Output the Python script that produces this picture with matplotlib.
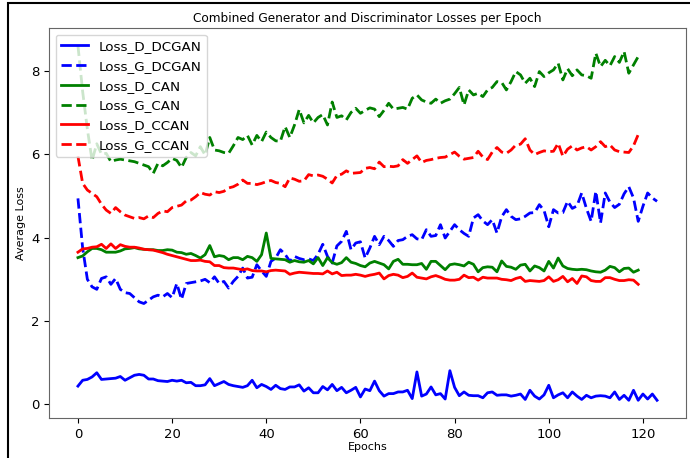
import matplotlib.pyplot as plt
from matplotlib.patches import Rectangle

# per-epoch losses
loss_d_dcgan = [
    0.44, 0.58, 0.60, 0.66, 0.76, 0.60, 0.61, 0.62, 0.63, 0.67,
    0.58, 0.64, 0.70, 0.72, 0.70, 0.61, 0.61, 0.57, 0.56, 0.55,
    0.58, 0.56, 0.58, 0.52, 0.53, 0.45, 0.45, 0.47, 0.62, 0.45,
    0.50, 0.55, 0.48, 0.45, 0.43, 0.41, 0.45, 0.58, 0.40, 0.48,
    0.43, 0.36, 0.46, 0.38, 0.36, 0.42, 0.42, 0.47, 0.32, 0.40,
    0.28, 0.28, 0.43, 0.35, 0.48, 0.33, 0.41, 0.28, 0.34, 0.41,
    0.18, 0.37, 0.33, 0.56, 0.33, 0.20, 0.26, 0.26, 0.30, 0.30,
    0.34, 0.14, 0.78, 0.20, 0.25, 0.42, 0.23, 0.26, 0.13, 0.81,
    0.41, 0.21, 0.30, 0.22, 0.21, 0.21, 0.16, 0.28, 0.30, 0.22,
    0.23, 0.23, 0.20, 0.22, 0.25, 0.12, 0.34, 0.20, 0.13, 0.23,
    0.46, 0.16, 0.23, 0.28, 0.16, 0.30, 0.20, 0.12, 0.22, 0.16,
    0.20, 0.21, 0.20, 0.16, 0.30, 0.12, 0.22, 0.10, 0.34, 0.10,
    0.25, 0.13, 0.25, 0.10,
]
loss_g_dcgan = [
    4.94, 3.75, 3.00, 2.82, 2.76, 3.02, 3.06, 2.88, 3.02, 2.76,
    2.68, 2.66, 2.56, 2.46, 2.42, 2.50, 2.58, 2.62, 2.58, 2.66,
    2.56, 2.90, 2.52, 2.90, 2.92, 2.94, 2.96, 3.00, 2.92, 3.06,
    2.90, 2.95, 2.79, 2.95, 3.07, 3.27, 3.03, 3.05, 3.35, 3.20,
    3.07, 3.43, 3.51, 3.71, 3.60, 3.43, 3.55, 3.50, 3.47, 3.49,
    3.45, 3.60, 3.84, 3.55, 3.39, 3.80, 3.91, 4.15, 3.71, 3.87,
    3.90, 3.51, 3.75, 4.03, 3.83, 4.03, 3.93, 3.79, 3.93, 3.95,
    4.03, 4.07, 3.97, 3.95, 4.19, 4.03, 4.05, 4.31, 3.99, 4.15,
    4.31, 4.19, 4.10, 4.03, 4.47, 4.55, 4.40, 4.31, 4.43, 4.11,
    4.50, 4.67, 4.51, 4.43, 4.45, 4.51, 4.59, 4.60, 4.79, 4.65,
    4.26, 4.67, 4.59, 4.60, 4.87, 4.70, 4.76, 5.07, 4.70, 4.39,
    5.11, 4.35, 5.07, 4.85, 4.72, 4.80, 5.05, 5.22, 4.95, 4.39,
    4.75, 5.07, 4.95, 4.87,
]
loss_d_can = [
    3.52, 3.56, 3.66, 3.74, 3.74, 3.71, 3.65, 3.65, 3.65, 3.68,
    3.73, 3.74, 3.76, 3.73, 3.72, 3.71, 3.71, 3.69, 3.69, 3.71,
    3.70, 3.65, 3.64, 3.60, 3.62, 3.57, 3.51, 3.59, 3.81, 3.54,
    3.57, 3.55, 3.47, 3.52, 3.52, 3.47, 3.55, 3.52, 3.43, 3.59,
    4.11, 3.50, 3.49, 3.48, 3.47, 3.41, 3.45, 3.42, 3.41, 3.45,
    3.37, 3.52, 3.33, 3.52, 3.40, 3.36, 3.40, 3.52, 3.41, 3.38,
    3.33, 3.30, 3.39, 3.43, 3.39, 3.35, 3.25, 3.43, 3.48, 3.36,
    3.36, 3.35, 3.35, 3.38, 3.24, 3.43, 3.43, 3.33, 3.23, 3.35,
    3.37, 3.35, 3.32, 3.41, 3.36, 3.18, 3.28, 3.30, 3.29, 3.18,
    3.44, 3.31, 3.29, 3.24, 3.34, 3.36, 3.20, 3.32, 3.28, 3.20,
    3.43, 3.27, 3.51, 3.32, 3.26, 3.24, 3.23, 3.24, 3.23, 3.20,
    3.18, 3.17, 3.22, 3.31, 3.28, 3.18, 3.26, 3.27, 3.17, 3.22,
]
loss_g_can = [
    8.60, 7.50, 6.60, 5.85, 6.25, 6.00, 6.02, 5.82, 5.86, 5.88,
    5.86, 5.84, 5.82, 5.78, 5.74, 5.70, 5.54, 5.78, 5.72, 5.80,
    5.90, 5.85, 5.68, 5.92, 6.04, 5.96, 6.18, 5.98, 6.40, 6.10,
    6.08, 6.04, 6.02, 6.20, 6.40, 6.35, 6.45, 6.22, 6.45, 6.30,
    6.53, 6.40, 6.32, 6.31, 6.66, 6.40, 6.70, 7.07, 6.75, 6.93,
    6.75, 6.88, 6.95, 6.70, 7.25, 6.88, 6.92, 6.82, 7.00, 7.10,
    6.98, 7.05, 7.11, 7.08, 6.90, 7.05, 7.22, 7.08, 7.10, 7.12,
    7.08, 7.34, 7.42, 7.30, 7.25, 7.22, 7.32, 7.22, 7.28, 7.32,
    7.45, 7.60, 7.18, 7.54, 7.42, 7.46, 7.38, 7.54, 7.60, 7.74,
    7.72, 7.54, 7.74, 7.98, 7.90, 7.70, 7.82, 7.62, 7.98, 7.86,
    7.95, 8.02, 8.18, 7.78, 8.05, 7.88, 8.02, 7.90, 7.88, 7.82,
    8.42, 8.10, 8.25, 8.12, 8.34, 8.20, 8.46, 7.94, 8.14, 8.34,
]
loss_d_ccan = [
    3.65, 3.73, 3.74, 3.77, 3.78, 3.84, 3.74, 3.85, 3.74, 3.83,
    3.79, 3.77, 3.77, 3.75, 3.72, 3.71, 3.70, 3.67, 3.64, 3.60,
    3.57, 3.54, 3.51, 3.48, 3.45, 3.45, 3.46, 3.43, 3.42, 3.33,
    3.33, 3.28, 3.27, 3.27, 3.25, 3.23, 3.25, 3.21, 3.20, 3.20,
    3.18, 3.21, 3.22, 3.21, 3.20, 3.12, 3.15, 3.17, 3.16, 3.15,
    3.14, 3.14, 3.13, 3.20, 3.13, 3.17, 3.09, 3.10, 3.10, 3.12,
    3.10, 3.07, 3.10, 3.12, 3.15, 3.01, 3.09, 3.12, 3.10, 3.04,
    3.07, 3.15, 3.05, 3.03, 3.01, 3.06, 3.09, 3.05, 3.00, 2.98,
    2.98, 3.00, 3.10, 3.04, 3.05, 2.98, 3.05, 3.03, 3.03, 3.03,
    3.00, 2.99, 2.97, 3.02, 3.05, 2.95, 2.97, 2.96, 2.95, 2.97,
    3.06, 2.95, 2.99, 3.07, 2.94, 3.02, 2.90, 3.08, 3.06, 2.97,
    2.95, 2.95, 3.04, 3.04, 3.00, 2.97, 2.97, 2.99, 2.98, 2.88,
]
loss_g_ccan = [
    5.95, 5.30, 5.14, 5.06, 4.98, 4.80, 4.66, 4.58, 4.72, 4.62,
    4.54, 4.50, 4.46, 4.48, 4.45, 4.52, 4.48, 4.58, 4.64, 4.62,
    4.72, 4.75, 4.78, 4.88, 4.90, 4.98, 5.08, 5.04, 5.02, 5.10,
    5.08, 5.11, 5.19, 5.22, 5.28, 5.38, 5.30, 5.30, 5.27, 5.30,
    5.34, 5.37, 5.32, 5.30, 5.22, 5.43, 5.40, 5.35, 5.36, 5.51,
    5.48, 5.50, 5.47, 5.40, 5.31, 5.49, 5.52, 5.60, 5.54, 5.55,
    5.56, 5.66, 5.68, 5.65, 5.81, 5.70, 5.71, 5.70, 5.72, 5.87,
    5.78, 5.87, 5.96, 5.80, 5.85, 5.87, 5.90, 5.92, 5.93, 5.99,
    6.05, 5.95, 5.88, 5.90, 5.92, 6.07, 5.93, 5.87, 6.05, 6.16,
    6.05, 6.02, 6.10, 6.22, 6.24, 6.37, 6.10, 5.99, 6.04, 6.08,
    6.06, 6.07, 6.26, 5.95, 6.12, 6.20, 6.10, 6.15, 6.18, 6.10,
    6.18, 6.30, 6.18, 6.22, 6.10, 6.06, 6.05, 6.04, 6.20, 6.47,
]

series = [
    ('Loss_D_DCGAN', loss_d_dcgan, 'blue', '-'),
    ('Loss_G_DCGAN', loss_g_dcgan, 'blue', '--'),
    ('Loss_D_CAN', loss_d_can, 'green', '-'),
    ('Loss_G_CAN', loss_g_can, 'green', '--'),
    ('Loss_D_CCAN', loss_d_ccan, 'red', '-'),
    ('Loss_G_CCAN', loss_g_ccan, 'red', '--'),
]

fig = plt.figure(figsize=(6.9, 4.58), dpi=100)
ax = fig.add_axes([0.071, 0.0873, 0.9232, 0.8516])

for label, values, color, style in series:
    ax.plot(range(len(values)), values, color=color, linestyle=style,
            linewidth=2, label=label)

ax.set_title('Combined Generator and Discriminator Losses per Epoch',
             fontsize=8.7, pad=4)
ax.set_xlabel('Epochs', fontsize=8, labelpad=1)
ax.set_ylabel('Average Loss', fontsize=8)
ax.yaxis.set_label_coords(-0.036, 0.5)
ax.tick_params(labelsize=9.5)
ax.legend(loc='upper left', fontsize=9.7)
for s in ax.spines.values():
    s.set_color('0.4')

# black frame around the screenshot (cut off at right and bottom)
fig.patches.append(Rectangle((7.5 / 690, -0.2), 1.2, 1.2 - 2.5 / 458,
                             transform=fig.transFigure, fill=False,
                             edgecolor='black', linewidth=1.5))

fig.savefig('out.png', dpi=100)
